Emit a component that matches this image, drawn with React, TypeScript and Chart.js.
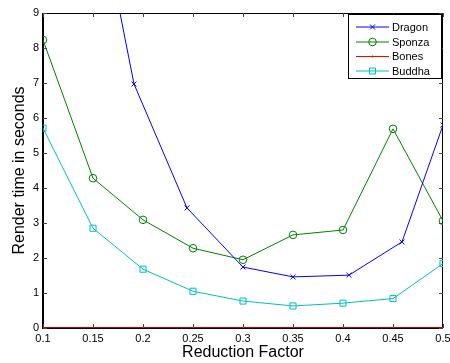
import React, { useEffect, useRef } from "react";
import { Chart, registerables } from "chart.js";
Chart.register(...registerables);

const xTickValues = [0.1, 0.15, 0.2, 0.25, 0.3, 0.35, 0.4, 0.45, 0.5];
const yTickValues = [0, 1, 2, 3, 4, 5, 6, 7, 8, 9];
const dragonX = [0.137, 0.191, 0.244, 0.3, 0.35, 0.406, 0.459, 0.5];
const dragonY = [14.8, 6.97, 3.43, 1.74, 1.46, 1.51, 2.46, 5.8];
const factors = [0.1, 0.15, 0.2, 0.25, 0.3, 0.35, 0.4, 0.45, 0.5];
const sponzaY = [8.23, 4.28, 3.09, 2.28, 1.95, 2.66, 2.8, 5.69, 3.06];
const bonesY = [0, 0, 0, 0, 0, 0, 0, 0, 0];
const buddhaY = [5.71, 2.85, 1.68, 1.05, 0.77, 0.63, 0.71, 0.84, 1.84];

const FONT = "'Liberation Sans', Arial, Helvetica, sans-serif";

const legendItems = [
  { label: "Dragon", color: "#0000ff", marker: "x" },
  { label: "Sponza", color: "#008000", marker: "o" },
  { label: "Bones", color: "#ff0000", marker: "." },
  { label: "Buddha", color: "#00bfbf", marker: "s" },
];

function drawMarker(ctx: CanvasRenderingContext2D, m: string, x: number, y: number, color: string) {
  ctx.save();
  ctx.strokeStyle = color;
  ctx.fillStyle = color;
  ctx.lineWidth = 1;
  ctx.beginPath();
  if (m === "x") {
    const r = 2.5;
    ctx.moveTo(x - r, y - r); ctx.lineTo(x + r, y + r);
    ctx.moveTo(x + r, y - r); ctx.lineTo(x - r, y + r);
    ctx.stroke();
  } else if (m === "o") {
    ctx.arc(x, y, 3.8, 0, Math.PI * 2);
    ctx.stroke();
  } else if (m === "s") {
    ctx.rect(x - 3, y - 3, 6, 6);
    ctx.stroke();
  } else {
    ctx.arc(x, y, 1, 0, Math.PI * 2);
    ctx.fill();
  }
  ctx.restore();
}

const framePlugin = {
  id: "frame",
  beforeDatasetsDraw(chart: any) {
    const { ctx, chartArea: a, scales } = chart;
    ctx.save();
    ctx.strokeStyle = "#000";
    ctx.lineWidth = 1;
    ctx.strokeRect(a.left + 0.5, a.top + 0.5, a.right - a.left - 1, a.bottom - a.top);
    ctx.lineWidth = 2;
    ctx.beginPath();
    ctx.moveTo(a.left, a.top);
    ctx.lineTo(a.left, a.bottom);
    ctx.lineTo(a.right, a.bottom);
    ctx.stroke();
    ctx.strokeStyle = "#444";
    ctx.lineWidth = 1;
    ctx.beginPath();
    const L = 4;
    for (const v of xTickValues) {
      const px = Math.round(scales.x.getPixelForValue(v)) + 0.5;
      ctx.moveTo(px, a.bottom); ctx.lineTo(px, a.bottom - L);
      ctx.moveTo(px, a.top); ctx.lineTo(px, a.top + L);
    }
    for (const v of yTickValues) {
      const py = Math.round(scales.y.getPixelForValue(v)) + 0.5;
      ctx.moveTo(a.left, py); ctx.lineTo(a.left + L, py);
      ctx.moveTo(a.right, py); ctx.lineTo(a.right - L, py);
    }
    ctx.stroke();
    ctx.restore();
  },
  afterDraw(chart: any) {
    const { ctx } = chart;
    ctx.save();
    const bx = 348.5, by = 14.5, bw = 93, bh = 64;
    ctx.fillStyle = "#fff";
    ctx.fillRect(bx, by, bw, bh);
    ctx.strokeStyle = "#000";
    ctx.lineWidth = 1;
    ctx.strokeRect(bx, by, bw, bh);
    const rows = [27, 42, 56.5, 71];
    ctx.font = `11px ${FONT}`;
    ctx.textBaseline = "middle";
    ctx.textAlign = "left";
    legendItems.forEach((it, i) => {
      const y = rows[i];
      ctx.strokeStyle = it.color;
      ctx.lineWidth = 1;
      ctx.beginPath();
      ctx.moveTo(356, y);
      ctx.lineTo(389, y);
      ctx.stroke();
      drawMarker(ctx, it.marker, 372.5, y, it.color);
      ctx.fillStyle = "#000";
      ctx.fillText(it.label, 392, y + 0.5);
    });
    ctx.restore();
  },
};

export default function App() {
  const ref = useRef<HTMLCanvasElement>(null);
  useEffect(() => {
    const canvas = ref.current!;
    const chart = new Chart(canvas, {
      type: "line",
      data: {
        datasets: [
          {
            label: "Dragon",
            data: dragonX.map((x, i) => ({ x, y: dragonY[i] })),
            borderColor: "#0000ff",
            backgroundColor: "#0000ff",
            borderWidth: 1,
            pointStyle: "crossRot",
            pointRadius: 3.5,
            pointBorderWidth: 1,
          },
          {
            label: "Sponza",
            data: factors.map((x, i) => ({ x, y: sponzaY[i] })),
            borderColor: "#008000",
            backgroundColor: "rgba(0,0,0,0)",
            borderWidth: 1,
            pointStyle: "circle",
            pointRadius: 3.8,
            pointBorderWidth: 1,
          },
          {
            label: "Bones",
            data: factors.map((x, i) => ({ x, y: bonesY[i] })),
            borderColor: "#ff0000",
            backgroundColor: "#ff0000",
            borderWidth: 1.5,
            pointStyle: "circle",
            pointRadius: 1,
            pointBorderWidth: 0,
          },
          {
            label: "Buddha",
            data: factors.map((x, i) => ({ x, y: buddhaY[i] })),
            borderColor: "#00bfbf",
            backgroundColor: "rgba(0,0,0,0)",
            borderWidth: 1,
            pointStyle: "rect",
            pointRadius: 4.3,
            pointBorderWidth: 1,
          },
        ],
      },
      options: {
        responsive: false,
        animation: false,
        events: [],
        layout: { padding: { top: 13, right: 7, left: 0, bottom: 0 } },
        plugins: { legend: { display: false }, tooltip: { enabled: false } },
        scales: {
          x: {
            type: "linear",
            min: 0.1,
            max: 0.5,
            afterBuildTicks: (s: any) => {
              s.ticks = xTickValues.map((v) => ({ value: v }));
            },
            afterFit: (s: any) => {
              s.height = 35;
              s.paddingLeft = 0;
              s.paddingRight = 0;
            },
            grid: { display: false, drawTicks: false },
            border: { display: false },
            ticks: {
              padding: 4,
              maxRotation: 0,
              autoSkip: false,
              color: "#000",
              font: { family: FONT, size: 11 },
              callback: (v: any) => String(Math.round(Number(v) * 100) / 100),
            },
            title: {
              display: true,
              text: "Reduction Factor",
              color: "#000",
              font: { family: FONT, size: 16 },
              padding: { top: 0, bottom: 1 },
            },
          },
          y: {
            type: "linear",
            min: 0,
            max: 9,
            afterBuildTicks: (s: any) => {
              s.ticks = yTickValues.map((v) => ({ value: v }));
            },
            afterFit: (s: any) => {
              s.width = 43;
              s.paddingTop = 0;
              s.paddingBottom = 0;
            },
            grid: { display: false, drawTicks: false },
            border: { display: false },
            ticks: {
              padding: 4,
              autoSkip: false,
              color: "#000",
              font: { family: FONT, size: 11 },
            },
            title: {
              display: true,
              text: "Render time in seconds",
              color: "#000",
              font: { family: FONT, size: 16 },
              padding: { top: 10, bottom: 0 },
            },
          },
        },
      },
      plugins: [framePlugin],
    } as any);
    return () => chart.destroy();
  }, []);
  return (
    <div style={{ position: "fixed", left: 0, top: 0, width: 450, height: 363, background: "#fff" }}>
      <canvas ref={ref} width={450} height={363} style={{ display: "block", width: 450, height: 363 }} />
    </div>
  );
}
